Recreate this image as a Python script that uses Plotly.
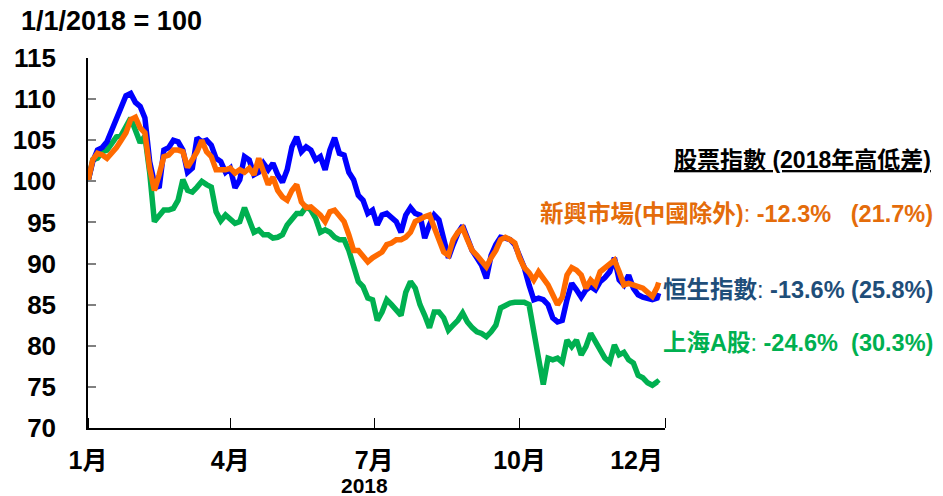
import plotly.graph_objects as go

dates = [
    "2018-01-01", "2018-01-04", "2018-01-07", "2018-01-10", "2018-01-13", "2018-01-16", "2018-01-19", "2018-01-22",
    "2018-01-25", "2018-01-28", "2018-01-31", "2018-02-03", "2018-02-06", "2018-02-09", "2018-02-12", "2018-02-15",
    "2018-02-18", "2018-02-21", "2018-02-24", "2018-02-27", "2018-03-02", "2018-03-05", "2018-03-08", "2018-03-11",
    "2018-03-14", "2018-03-17", "2018-03-20", "2018-03-23", "2018-03-26", "2018-03-29", "2018-04-01", "2018-04-04",
    "2018-04-07", "2018-04-10", "2018-04-13", "2018-04-16", "2018-04-19", "2018-04-22", "2018-04-25", "2018-04-28",
    "2018-05-01", "2018-05-04", "2018-05-07", "2018-05-10", "2018-05-13", "2018-05-16", "2018-05-19", "2018-05-22",
    "2018-05-25", "2018-05-28", "2018-05-31", "2018-06-03", "2018-06-06", "2018-06-09", "2018-06-12", "2018-06-15",
    "2018-06-18", "2018-06-21", "2018-06-24", "2018-06-27", "2018-06-30", "2018-07-03", "2018-07-06", "2018-07-09",
    "2018-07-12", "2018-07-15", "2018-07-18", "2018-07-21", "2018-07-24", "2018-07-27", "2018-07-30", "2018-08-02",
    "2018-08-05", "2018-08-08", "2018-08-11", "2018-08-14", "2018-08-17", "2018-08-20", "2018-08-23", "2018-08-26",
    "2018-08-29", "2018-09-01", "2018-09-04", "2018-09-07", "2018-09-10", "2018-09-13", "2018-09-16", "2018-09-19",
    "2018-09-22", "2018-09-25", "2018-09-28", "2018-10-01", "2018-10-04", "2018-10-07", "2018-10-10", "2018-10-13",
    "2018-10-16", "2018-10-19", "2018-10-22", "2018-10-25", "2018-10-28", "2018-10-31", "2018-11-03", "2018-11-06",
    "2018-11-09", "2018-11-12", "2018-11-15", "2018-11-18", "2018-11-21", "2018-11-24", "2018-11-27", "2018-11-30",
    "2018-12-03", "2018-12-06", "2018-12-09", "2018-12-12", "2018-12-15", "2018-12-18", "2018-12-21", "2018-12-24",
    "2018-12-27", "2018-12-28",
]

hang_seng = [
    100.0, 102.4, 103.8, 104.1, 104.8, 106.2, 107.5, 109.3, 110.4, 110.7, 109.6, 109.1, 107.7, 102.4, 99.8, 99.2,
    103.8, 104.1, 105.0, 104.8, 103.8, 101.1, 101.6, 105.3, 104.8, 105.0, 104.4, 102.8, 102.4, 101.1, 101.6, 99.2,
    100.2, 103.0, 102.6, 100.8, 101.1, 102.2, 101.4, 102.2, 100.8, 99.9, 101.4, 104.2, 105.4, 103.6, 104.2, 103.8,
    102.6, 103.0, 101.4, 103.8, 105.3, 103.4, 103.2, 101.1, 100.2, 98.3, 97.7, 96.1, 96.5, 94.7, 95.9, 96.1,
    95.7, 95.1, 93.8, 95.9, 96.8, 96.1, 95.9, 93.1, 94.7, 95.9, 95.3, 92.9, 90.7, 92.3, 93.7, 94.6,
    92.9, 91.6, 90.7, 89.8, 88.2, 91.0, 92.3, 93.2, 93.1, 92.9, 92.3, 90.7, 89.5, 87.4, 85.6, 85.8,
    85.6, 85.0, 83.4, 82.9, 83.1, 85.6, 87.6, 86.8, 85.9, 86.8, 87.2, 86.8, 87.8, 88.3, 89.0, 90.7,
    88.0, 87.4, 88.6, 87.0, 86.2, 85.9, 85.8, 85.6, 85.8, 86.4,
]

em_ex_china = [
    100.0, 102.6, 103.4, 103.2, 102.8, 103.4, 104.1, 105.0, 105.9, 107.5, 107.8, 106.5, 105.9, 101.6, 98.9, 100.8,
    103.0, 103.2, 103.8, 103.8, 103.6, 101.7, 102.6, 103.6, 105.0, 103.6, 103.0, 101.4, 101.4, 101.4, 101.6, 101.0,
    101.4, 101.1, 101.6, 100.8, 102.8, 101.4, 99.6, 100.5, 98.9, 98.1, 97.7, 98.9, 99.6, 97.5, 96.8, 96.9,
    96.5, 95.9, 95.1, 96.3, 96.5, 95.8, 95.1, 93.5, 91.6, 91.6, 91.0, 90.2, 90.7, 91.0, 91.4, 92.3,
    92.5, 92.9, 92.9, 93.2, 93.8, 95.1, 95.5, 95.7, 95.9, 94.3, 92.9, 91.4, 91.0, 92.9, 93.8, 94.3,
    92.9, 91.6, 91.0, 90.2, 89.6, 90.7, 91.6, 92.9, 93.2, 92.9, 92.5, 90.7, 89.5, 88.9, 88.0, 89.0,
    88.3, 87.4, 86.2, 85.0, 85.9, 88.6, 89.5, 89.2, 88.6, 87.0, 88.0, 87.4, 89.0, 89.5, 89.8, 90.4,
    89.0, 87.4, 87.6, 87.4, 87.1, 87.0, 86.5, 86.0, 87.1, 87.7,
]

shanghai_a = [
    100.0, 102.6, 102.8, 103.6, 103.8, 104.7, 105.4, 105.6, 106.6, 107.7, 106.2, 104.7, 105.5, 101.1, 95.1, 95.9,
    96.5, 96.5, 96.7, 97.7, 100.2, 98.9, 98.7, 99.3, 100.0, 99.6, 99.3, 96.3, 95.2, 95.9, 95.3, 94.9,
    95.1, 96.8, 95.3, 93.8, 94.1, 93.5, 93.5, 93.1, 93.2, 93.5, 94.7, 95.5, 96.1, 96.1, 96.9, 96.5,
    95.5, 93.8, 94.1, 93.8, 93.2, 92.9, 92.9, 91.6, 89.8, 87.8, 87.2, 85.8, 85.6, 83.1, 84.1, 85.6,
    85.0, 84.3, 83.7, 86.5, 87.8, 87.0, 85.0, 83.7, 82.2, 84.1, 84.1, 83.4, 81.9, 82.5, 83.1, 84.0,
    82.9, 82.2, 81.7, 81.5, 81.1, 81.7, 82.5, 84.6, 85.0, 85.2, 85.3, 85.3, 85.3, 85.0, 81.3, 78.5,
    75.3, 78.5, 78.3, 78.5, 78.0, 80.7, 79.9, 80.7, 78.9, 79.9, 81.5, 80.5, 79.7, 78.5, 78.0, 80.1,
    78.9, 79.2, 78.3, 77.9, 76.4, 76.1, 75.5, 75.2, 75.6, 75.4,
]

x_tick_vals = ["2018-01-01", "2018-04-01", "2018-07-01", "2018-10-01", "2018-12-14"]
x_tick_text = ["1月", "4月", "7月", "10月", "12月"]
y_tick_vals = [70, 75, 80, 85, 90, 95, 100, 105, 110, 115]

legend_header = "股票指數 (2018年高低差)"
legend_labels = [
    ("新興市場(中國除外)", "-12.3%   (21.7%)", "#E46C0A"),
    ("恒生指數", "-13.6% (25.8%)", "#1F4E79"),
    ("上海A股", "-24.6%  (30.3%)", "#00B050"),
]

FONT = "Liberation Sans, Arial, Noto Sans CJK TC, sans-serif"

L, R, T, B = 88, 278, 58, 68
W, H = 943, 496
plot_w = W - L - R
plot_h = H - T - B


def px_to_paper(xp, yp):
    return (xp - L) / plot_w, (H - B - yp) / plot_h


fig = go.Figure()
fig.add_trace(go.Scatter(x=dates, y=shanghai_a, mode="lines",
                         line=dict(color="#00B050", width=5.5), name="上海A股"))
fig.add_trace(go.Scatter(x=dates, y=hang_seng, mode="lines",
                         line=dict(color="#0000FF", width=5.5), name="恒生指數"))
fig.add_trace(go.Scatter(x=dates, y=em_ex_china, mode="lines",
                         line=dict(color="#FF6A00", width=5.5), name="新興市場(中國除外)"))

fig.update_layout(
    width=W, height=H,
    margin=dict(l=L, r=R, t=T, b=B, autoexpand=False),
    paper_bgcolor="white", plot_bgcolor="white",
    showlegend=False,
    font=dict(family=FONT, color="black"),
    title=dict(text="<b>1/1/2018 = 100</b>", x=21 / W, xanchor="left",
               y=1 - 21 / H, yanchor="middle",
               font=dict(size=27, family=FONT, color="black")),
)

fig.update_xaxes(
    type="date",
    range=["2018-01-01", "2019-01-01"],
    automargin=False,
    showgrid=False, zeroline=False,
    showline=True, linecolor="black", linewidth=1.5,
    tickvals=x_tick_vals, ticktext=["<b>%s</b>" % t for t in x_tick_text],
    ticks="", ticklabelstandoff=9,
    tickfont=dict(size=25, family=FONT, color="black"),
    minor=dict(ticks="inside", ticklen=10, tickcolor="black", tickwidth=1,
               dtick="M3", tick0="2018-01-01", showgrid=False),
)

fig.update_yaxes(
    range=[70, 115],
    automargin=False,
    showgrid=False, zeroline=False,
    showline=True, linecolor="black", linewidth=1.5,
    tickvals=y_tick_vals, ticktext=["<b>%d</b>" % v for v in y_tick_vals],
    ticks="inside", ticklen=8, tickcolor="#808080", tickwidth=1.5,
    ticklabelstandoff=25,
    tickfont=dict(size=26, family=FONT, color="black"),
)

yx, yy = px_to_paper(364, 485)
fig.add_annotation(x=yx, y=yy, xref="paper", yref="paper", xanchor="center", yanchor="middle",
                   showarrow=False, text="<b>2018</b>",
                   font=dict(size=21, family=FONT, color="black"))

hx, hy = px_to_paper(672, 160)
fig.add_annotation(x=hx, y=hy, xref="paper", yref="paper", xanchor="left", yanchor="middle",
                   showarrow=False, text="<u><b>%s</b></u>" % legend_header,
                   font=dict(size=23, family=FONT, color="black"))

label_pos = [(538, 214), (661, 290), (661, 343)]
for (name, val, col), (xp, yp) in zip(legend_labels, label_pos):
    ax, ay = px_to_paper(xp, yp)
    fig.add_annotation(x=ax, y=ay, xref="paper", yref="paper", xanchor="left", yanchor="middle",
                       showarrow=False, text="<b>%s</b>: <b>%s</b>" % (name, val),
                       font=dict(size=23.5, family=FONT, color=col))

fig.write_html("out.html",
               config={"displayModeBar": False},
               post_script="document.body.style.margin='0';document.body.style.overflow='hidden';")
